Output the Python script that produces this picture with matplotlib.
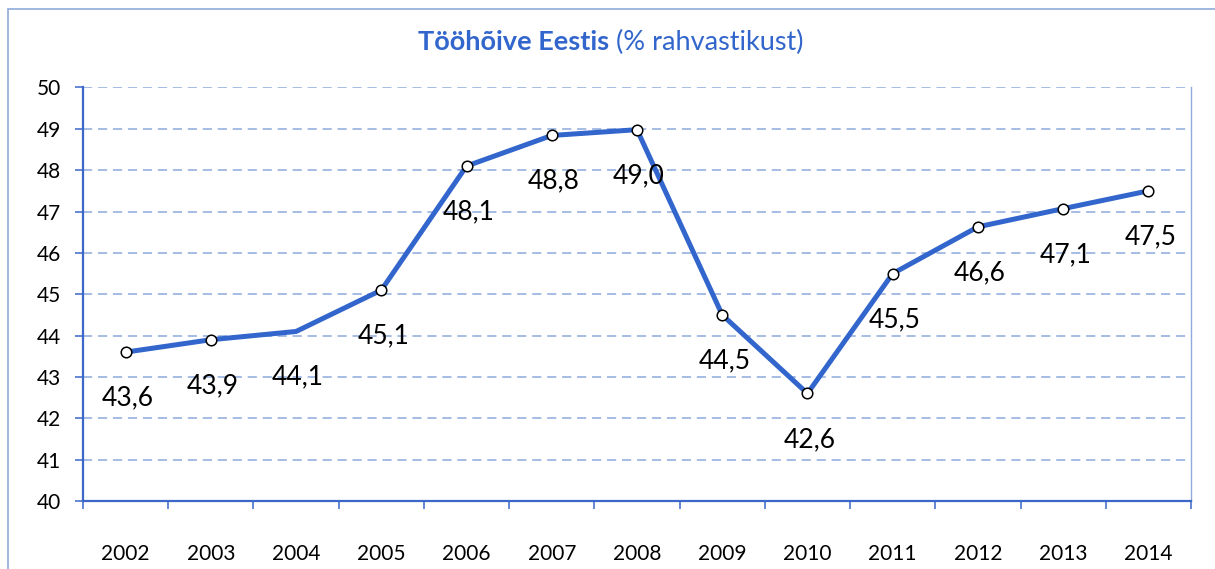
import matplotlib
matplotlib.use("Agg")
import matplotlib.pyplot as plt
from matplotlib.patches import Rectangle

years = ["2002", "2003", "2004", "2005", "2006", "2007", "2008",
         "2009", "2010", "2011", "2012", "2013", "2014"]
values = [43.6, 43.9, 44.1, 45.1, 48.1, 48.84, 48.98, 44.5, 42.6, 45.5, 46.63, 47.07, 47.5]
value_labels = ["43,6", "43,9", "44,1", "45,1", "48,1", "48,8", "49,0",
                "44,5", "42,6", "45,5", "46,6", "47,1", "47,5"]
y_ticks = [40, 41, 42, 43, 44, 45, 46, 47, 48, 49, 50]

FONT = ["Lato", "DejaVu Sans"]
plt.rcParams['font.family'] = FONT

BLUE = "#3366CC"
AXBLUE = "#3A67C8"
GRID = "#8EA9DB"
LIGHT = "#8FAADC"

fig = plt.figure(figsize=(12.15, 5.69), dpi=100)
ax = fig.add_axes([83/1215, (569-501)/569, (1191-83)/1215, (501-87.5)/569])

x = list(range(len(years)))
ax.plot(x, values, color=BLUE, lw=3.6, solid_joinstyle='miter', zorder=3)
marker_idx = [i for i in x if years[i] != "2004"]
ax.plot([x[i] for i in marker_idx], [values[i] for i in marker_idx], ls='none',
        marker='o', ms=7.6, mfc='white', mec='black', mew=1.1, zorder=4)

for xi, v, lab in zip(x, values, value_labels):
    ax.annotate(lab, (xi, v), xytext=(1.5, -33), textcoords='offset points',
                ha='center', va='center', fontsize=19, color='black', zorder=5)

ax.set_xlim(-0.5, len(years) - 0.5)
ax.set_ylim(40, 50)
ax.set_yticks(y_ticks)
ax.set_yticklabels([str(t) for t in y_ticks])
ax.set_xticks([i - 0.5 for i in range(len(years) + 1)])
ax.set_xticklabels([])
ax.set_xticks(x, minor=True)
ax.set_xticklabels(years, minor=True)

ax.tick_params(axis='x', which='major', direction='out', length=6, width=1.1, color=AXBLUE)
ax.tick_params(axis='x', which='minor', length=0, pad=31, labelsize=15)
ax.tick_params(axis='y', direction='out', length=6, width=1.1, color=AXBLUE, pad=10, labelsize=15)

for t in y_ticks[1:]:
    ax.axhline(t, color=GRID, lw=1.1, ls=(0, (6, 3.8)), zorder=1)

ax.spines['top'].set_visible(False)
ax.spines['left'].set_color(AXBLUE)
ax.spines['left'].set_linewidth(1.6)
ax.spines['bottom'].set_color(AXBLUE)
ax.spines['bottom'].set_linewidth(1.6)
ax.spines['right'].set_color(LIGHT)
ax.spines['right'].set_linewidth(1.0)

# outer chart border
fig.patches.append(Rectangle((8/1215, -0.02), 1.05, 1 - 9/569 + 0.02,
                             transform=fig.transFigure, fill=False,
                             edgecolor=LIGHT, lw=1.2))

# title with mixed weights
fig.canvas.draw()
renderer = fig.canvas.get_renderer()
t1 = fig.text(0, 0, "Tööhõive Eestis", fontsize=19.5, fontweight='bold', color=BLUE)
t2 = fig.text(0, 0, " (% rahvastikust)", fontsize=19.5, color=BLUE)
w1 = t1.get_window_extent(renderer).width
w2 = t2.get_window_extent(renderer).width
cx = 611
x0 = cx - (w1 + w2) / 2
yc = 569 - 42
t1.set_position((x0 / 1215, yc / 569)); t1.set_va('center')
t2.set_position(((x0 + w1) / 1215, yc / 569)); t2.set_va('center')

fig.savefig("out.png", dpi=100)
